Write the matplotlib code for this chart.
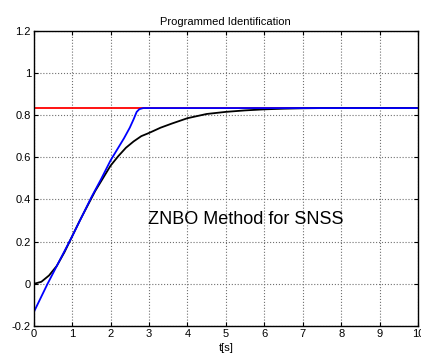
import matplotlib
matplotlib.use("Agg")
import matplotlib.pyplot as plt
import numpy as np

plt.rcParams['font.family'] = ['Liberation Sans', 'DejaVu Sans']

# reference level
ref_t = [0, 10]
ref_y = [0.833, 0.833]

# identified model (blue)
blue_t = [0, 0.36, 1.0, 1.5, 1.75, 2.0, 2.15, 2.35, 2.5, 2.6, 2.68, 2.75, 2.85, 10]
blue_y = [-0.135, 0.0, 0.225, 0.41, 0.495, 0.585, 0.63, 0.69, 0.74, 0.78, 0.815, 0.828, 0.833, 0.833]

# measured response (black)
black_t = [0, 0.2, 0.4, 0.6, 0.8, 1.0, 1.2, 1.4, 1.6, 1.8, 2.0, 2.2, 2.4, 2.6, 2.8,
           3.0, 3.3, 3.6, 4.0, 4.5, 5.0, 5.5, 6.0, 6.5, 7.0, 7.5, 10]
black_y = [0, 0.01, 0.04, 0.085, 0.15, 0.225, 0.3, 0.37, 0.44, 0.5, 0.56, 0.605, 0.645,
           0.675, 0.7, 0.715, 0.74, 0.76, 0.785, 0.805, 0.815, 0.822, 0.827, 0.83, 0.832,
           0.833, 0.833]

fig = plt.figure(figsize=(4.21, 3.56), dpi=100)
ax = fig.add_axes([0.08, 0.084, 0.913, 0.83])

ax.plot(ref_t, ref_y, color='red', lw=1.3)
ax.plot(black_t, black_y, color='black', lw=1.3)
ax.plot(blue_t, blue_y, color='blue', lw=1.3)

ax.set_xlim(0, 10)
ax.set_ylim(-0.2, 1.2)
ax.set_xticks(np.arange(0, 11, 1))
ax.set_yticks([-0.2, 0, 0.2, 0.4, 0.6, 0.8, 1.0, 1.2])
ax.set_yticklabels(['-0.2', '0', '0.2', '0.4', '0.6', '0.8', '1', '1.2'])
ax.grid(True, color='#707070', linestyle=':', linewidth=0.8)
ax.tick_params(direction='in', top=True, right=True, labelsize=8, length=3, pad=2)
for s in ax.spines.values():
    s.set_linewidth(1.0)

ax.set_title('Programmed Identification', fontsize=8, pad=4)
ax.set_xlabel('t[s]', fontsize=8, labelpad=3)
ax.text(2.97, 0.305, 'ZNBO Method for SNSS', fontsize=13, va='center', ha='left')

fig.savefig('out.png', dpi=100)
